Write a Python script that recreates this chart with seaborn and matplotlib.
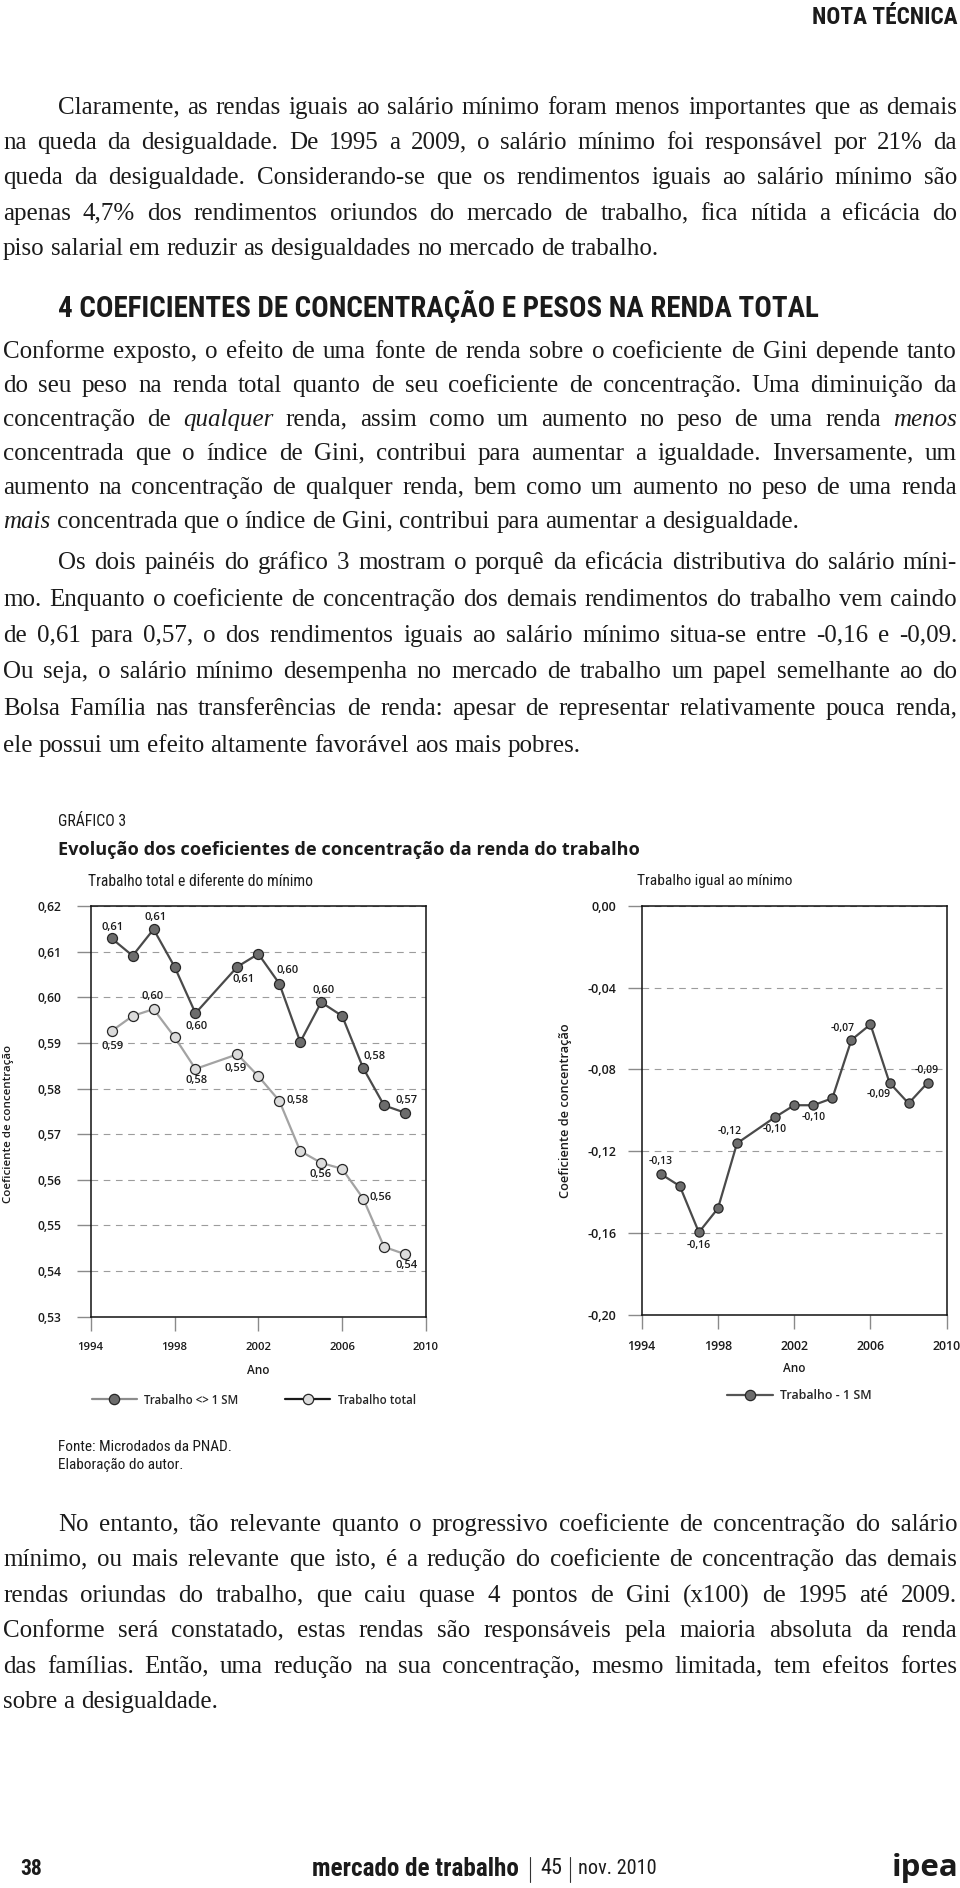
import math
import matplotlib
matplotlib.use("Agg")
import matplotlib.pyplot as plt
import seaborn as sns
import numpy as np
import pandas as pd
from matplotlib.font_manager import FontProperties, findfont
from matplotlib.lines import Line2D
from matplotlib.ticker import FuncFormatter

# ---------------------------------------------------------------- data
years = [1995, 1996, 1997, 1998, 1999, 2001, 2002, 2003, 2004, 2005, 2006, 2007, 2008, 2009]
trabalho_dif_1sm = [0.6129, 0.6091, 0.6149, 0.6067, 0.5965, 0.6067, 0.6095,
                    0.6030, 0.5902, 0.5989, 0.5959, 0.5845, 0.5763, 0.5747]
trabalho_total = [0.5926, 0.5959, 0.5974, 0.5913, 0.5843, 0.5875, 0.5827,
                  0.5773, 0.5663, 0.5637, 0.5624, 0.5559, 0.5453, 0.5437]
trabalho_1sm = [-0.1311, -0.1370, -0.1596, -0.1479, -0.1161, -0.1033, -0.0975,
                -0.0975, -0.0941, -0.0656, -0.0580, -0.0865, -0.0966, -0.0865]
labeled_years = [1995, 1997, 1999, 2001, 2003, 2005, 2007, 2009]
x_ticks = [1994, 1998, 2002, 2006, 2010]
left_yticks = [0.53, 0.54, 0.55, 0.56, 0.57, 0.58, 0.59, 0.60, 0.61, 0.62]
right_yticks = [-0.20, -0.16, -0.12, -0.08, -0.04, 0.00]

series_left_names = ["Trabalho <> 1 SM", "Trabalho total"]
series_right_name = "Trabalho - 1 SM"

P1 = ["Claramente, as rendas iguais ao salário mínimo foram menos importantes que as demais",
      "na queda da desigualdade. De 1995 a 2009, o salário mínimo foi responsável por 21% da",
      "queda da desigualdade. Considerando-se que os rendimentos iguais ao salário mínimo são",
      "apenas 4,7% dos rendimentos oriundos do mercado de trabalho, fica nítida a eficácia do",
      "piso salarial em reduzir as desigualdades no mercado de trabalho."]
HEADING = "4 COEFICIENTES DE CONCENTRAÇÃO E PESOS NA RENDA TOTAL"
P2 = ["Conforme exposto, o efeito de uma fonte de renda sobre o coeficiente de Gini depende tanto",
      "do seu peso na renda total quanto de seu coeficiente de concentração. Uma diminuição da",
      "concentração de _qualquer_ renda, assim como um aumento no peso de uma renda _menos_",
      "concentrada que o índice de Gini, contribui para aumentar a igualdade. Inversamente, um",
      "aumento na concentração de qualquer renda, bem como um aumento no peso de uma renda",
      "_mais_ concentrada que o índice de Gini, contribui para aumentar a desigualdade."]
P3 = ["Os dois painéis do gráfico 3 mostram o porquê da eficácia distributiva do salário míni-",
      "mo. Enquanto o coeficiente de concentração dos demais rendimentos do trabalho vem caindo",
      "de 0,61 para 0,57, o dos rendimentos iguais ao salário mínimo situa-se entre -0,16 e -0,09.",
      "Ou seja, o salário mínimo desempenha no mercado de trabalho um papel semelhante ao do",
      "Bolsa Família nas transferências de renda: apesar de representar relativamente pouca renda,",
      "ele possui um efeito altamente favorável aos mais pobres."]
P4 = ["No entanto, tão relevante quanto o progressivo coeficiente de concentração do salário",
      "mínimo, ou mais relevante que isto, é a redução do coeficiente de concentração das demais",
      "rendas oriundas do trabalho, que caiu quase 4 pontos de Gini (x100) de 1995 até 2009.",
      "Conforme será constatado, estas rendas são responsáveis pela maioria absoluta da renda",
      "das famílias. Então, uma redução na sua concentração, mesmo limitada, tem efeitos fortes",
      "sobre a desigualdade."]

GRAFICO_LABEL = "GRÁFICO 3"
TITLE = "Evolução dos coeficientes de concentração da renda do trabalho"
SUB_LEFT = "Trabalho total e diferente do mínimo"
SUB_RIGHT = "Trabalho igual ao mínimo"
YLABEL = "Coeficiente de concentração"
XLABEL = "Ano"
SOURCE = ["Fonte: Microdados da PNAD.", "Elaboração do autor."]

# ---------------------------------------------------------------- style
sns.set_theme(style="white")
plt.rcParams["font.family"] = ["Open Sans", "DejaVu Sans"]


def pick_condensed():
    cands = [("Liberation Sans Narrow", "normal", "Narrow"),
             ("Open Sans", "condensed", "ondensed"),
             ("Roboto Condensed", "normal", "ondensed"),
             ("DejaVu Sans", "condensed", "ondensed")]
    for fam, stretch, key in cands:
        try:
            path = findfont(FontProperties(family=fam, stretch=stretch),
                            fallback_to_default=False)
        except Exception:
            continue
        if key in str(path):
            return fam, stretch
    return "Liberation Sans", "normal"


NARROW, NARROW_STRETCH = pick_condensed()
SERIF = "Liberation Serif"
SANS = "Open Sans"
TEXT = "#1b1b1b"

DARK_LINE = "#4a4a4a"
DARK_FACE = "#6c6c6c"
LIGHT_LINE = "#a3a3a3"
LIGHT_FACE = "#dcdcdc"
EDGE = "#262626"

W, H = 960, 1888
fig = plt.figure(figsize=(W / 100, H / 100), dpi=100)
fig.patch.set_facecolor("white")
renderer = fig.canvas.get_renderer()


def metrics(s, fp):
    return renderer.get_text_width_height_descent(s, fp, ismath=False)


def tw(s, fp):
    return metrics(s, fp)[0]


def fprop(family, size=10, weight="normal", style="normal"):
    stretch = NARROW_STRETCH if family == NARROW else "normal"
    return FontProperties(family=family, size=size, weight=weight,
                          style=style, stretch=stretch)


def fitted(s, width, family, weight="normal", style="normal"):
    f = fprop(family, 10, weight, style)
    f.set_size(10 * width / tw(s, f))
    return f


def put(x, y, s, fp, ha="left", va="center", color=TEXT):
    return fig.text(x / W, 1 - y / H, s, fontproperties=fp, ha=ha, va=va, color=color)


def snapped_baseline(Y, s, fp):
    """Baseline (top-down px) that makes the rasterised word sit on integer row Y."""
    _, h, d = metrics(s, fp)
    y_max = h - d
    return Y + math.floor(h + 1e-7) - math.floor(y_max + 1e-7) - d


def comma(v):
    s = f"{v:.2f}"
    if s == "-0.00":
        s = "0.00"
    return s.replace(".", ",")


# ---------------------------------------------------------------- page text
put(958, 17, "NOTA TÉCNICA", fitted("NOTA TÉCNICA", 145, NARROW, "bold"), ha="right")
put(58, 307, HEADING, fitted(HEADING, 761, NARROW, "bold"))

LEFT, RIGHT, INDENT = 3, 957, 55
paragraphs = [
    (P1, True, 106.5, 35.4),
    (P2, False, 351.0, 34.0),
    (P3, True, 562.0, 36.5),
    (P4, True, 1524.0, 35.4),
]


def items_of(line, fr, fi):
    out = []
    for w in line.split(" "):
        if len(w) > 2 and w.startswith("_") and w.endswith("_"):
            out.append((w[1:-1], fi))
        else:
            out.append((w, fr))
    return out


REF_FS = 17.0
probe = fprop(SERIF, REF_FS)
probe_it = fprop(SERIF, REF_FS, style="italic")
probe_space = tw("a a", probe) - tw("aa", probe)
ratios = []
for lines, indent, y0, dy in paragraphs:
    for i, line in enumerate(lines[:-1]):
        x0 = LEFT + (INDENT if (i == 0 and indent) else 0)
        it = items_of(line, probe, probe_it)
        nat = sum(tw(t, f) for t, f in it) + 0.55 * probe_space * (len(it) - 1)
        ratios.append((RIGHT - x0) / nat)
BODY_FS = round(min(18.0, REF_FS * min(ratios)), 1)

body = fprop(SERIF, BODY_FS)
body_it = fprop(SERIF, BODY_FS, style="italic")
space_w = tw("a a", body) - tw("aa", body)

for lines, indent, y0, dy in paragraphs:
    for i, line in enumerate(lines):
        x0 = LEFT + (INDENT if (i == 0 and indent) else 0)
        Y = int(round(y0 + i * dy + 7))
        it = items_of(line, body, body_it)
        widths = [tw(t, f) for t, f in it]
        last = i == len(lines) - 1
        gap = space_w if (last or len(it) < 2) else (RIGHT - x0 - sum(widths)) / (len(it) - 1)
        x = x0
        for (t, f), wd in zip(it, widths):
            put(x, snapped_baseline(Y, t, f), t, f, va="baseline")
            x += wd + gap

# ---------------------------------------------------------------- chart header
put(58, 821, GRAFICO_LABEL, fitted(GRAFICO_LABEL, 68, NARROW))
put(58, 850, TITLE, fitted(TITLE, 583, SANS, "bold"))
put(88, 881, SUB_LEFT, fitted(SUB_LEFT, 224, NARROW))
put(637, 881, SUB_RIGHT, fitted(SUB_RIGHT, 155, NARROW))

# ---------------------------------------------------------------- axes
axL = fig.add_axes([90.7 / W, 1 - 1316.7 / H, 335.3 / W, 410.7 / H])
axR = fig.add_axes([641.7 / W, 1 - 1315.0 / H, 305.0 / W, 409.3 / H])

df_left = pd.DataFrame({"Ano": years,
                        series_left_names[0]: trabalho_dif_1sm,
                        series_left_names[1]: trabalho_total})
df_right = pd.DataFrame({"Ano": years, series_right_name: trabalho_1sm})

MS_L = 7.2
MS_R = 6.6
sns.lineplot(data=df_left, x="Ano", y=series_left_names[1], ax=axL, color=LIGHT_LINE,
             linewidth=1.6, marker="o", markersize=MS_L, markerfacecolor=LIGHT_FACE,
             markeredgecolor=EDGE, markeredgewidth=0.9, legend=False, zorder=3)
sns.lineplot(data=df_left, x="Ano", y=series_left_names[0], ax=axL, color=DARK_LINE,
             linewidth=1.6, marker="o", markersize=MS_L, markerfacecolor=DARK_FACE,
             markeredgecolor=EDGE, markeredgewidth=0.9, legend=False, zorder=4)
sns.lineplot(data=df_right, x="Ano", y=series_right_name, ax=axR, color=DARK_LINE,
             linewidth=1.6, marker="o", markersize=MS_R, markerfacecolor=DARK_FACE,
             markeredgecolor=EDGE, markeredgewidth=0.9, legend=False, zorder=4)

for ln, face in zip(axL.lines, [LIGHT_FACE, DARK_FACE]):
    ln.set_markerfacecolor(face)
    ln.set_markeredgecolor(EDGE)
for ln in axR.lines:
    ln.set_markerfacecolor(DARK_FACE)
    ln.set_markeredgecolor(EDGE)

LABEL_WEIGHT = 600


def style_axes(ax, ylim, yticks, fs_y, fs_x, ypad):
    ax.set_xlim(1994, 2010)
    ax.set_ylim(*ylim)
    ax.set_xticks(x_ticks)
    ax.set_yticks(yticks)
    ax.xaxis.set_major_formatter(FuncFormatter(lambda v, p: f"{int(round(v))}"))
    ax.yaxis.set_major_formatter(FuncFormatter(lambda v, p: comma(v)))
    for sp in ax.spines.values():
        sp.set_visible(True)
        sp.set_color("#111111")
        sp.set_linewidth(1.1)
    ax.tick_params(axis="both", which="major", direction="out", length=10, width=1.0,
                   color="#8a8a8a", bottom=True, left=True, top=False, right=False)
    ax.tick_params(axis="y", pad=ypad, labelsize=fs_y, labelcolor=TEXT)
    ax.tick_params(axis="x", pad=8.3, labelsize=fs_x, labelcolor=TEXT)
    for lab in ax.get_xticklabels() + ax.get_yticklabels():
        lab.set_fontweight(LABEL_WEIGHT)
    ax.yaxis.grid(True, linestyle=(0, (6, 5)), color="#9c9c9c", linewidth=0.8)
    ax.xaxis.grid(False)
    ax.set_axisbelow(True)
    ax.set_facecolor("white")


style_axes(axL, (0.53, 0.62), left_yticks, 8.7, 8.2, 11.3)
style_axes(axR, (-0.20, 0.0), right_yticks, 9.0, 8.9, 8.4)

axL.set_xlabel(XLABEL, fontsize=8.5, color=TEXT, va="center", fontweight=LABEL_WEIGHT)
axL.xaxis.set_label_coords(0.5, -0.1315)
axR.set_xlabel(XLABEL, fontsize=8.5, color=TEXT, va="center", fontweight=LABEL_WEIGHT)
axR.xaxis.set_label_coords(0.5, -0.130)

axL.set_ylabel(YLABEL, fontproperties=fitted(YLABEL, 157, SANS, LABEL_WEIGHT), color=TEXT, va="center")
axL.yaxis.set_label_coords(-0.245, 0.47)
axR.set_ylabel(YLABEL, fontproperties=fitted(YLABEL, 175, SANS, LABEL_WEIGHT), color=TEXT, va="center")
axR.yaxis.set_label_coords(-0.2505, 0.5)

# ---------------------------------------------------------------- value labels
dark_offsets = [(1, 11), (2, 12), (1.5, -13), (6, -13), (8, 13), (2.5, 12), (11, 11), (2, 12.5)]
light_offsets = [(1, -15), (-1, 13), (1, -12), (-2, -14), (18, 0), (-1, -11.5), (17.5, 1), (2, -11)]
right_offsets = [(0, 12), (0, -13), (-7, 12), (0, -12), (0, -12), (-8.5, 11.5), (-11, -11.5), (-1.5, 12.5)]


def annotate(ax, xs, ys, offsets, fs):
    lookup = dict(zip(xs, ys))
    for yr, off in zip(labeled_years, offsets):
        v = lookup[yr]
        ax.annotate(comma(v), (yr, v), xytext=off, textcoords="offset pixels",
                    ha="center", va="center", fontsize=fs, color=TEXT, zorder=6,
                    fontweight=LABEL_WEIGHT)


annotate(axL, years, trabalho_dif_1sm, dark_offsets, 8.0)
annotate(axL, years, trabalho_total, light_offsets, 8.0)
annotate(axR, years, trabalho_1sm, right_offsets, 7.5)

# ---------------------------------------------------------------- legends
hL1 = Line2D([], [], color="#8c8c8c", linewidth=1.6, marker="o", markersize=7.4,
             markerfacecolor=DARK_FACE, markeredgecolor=EDGE, markeredgewidth=0.9)
hL2 = Line2D([], [], color="#1a1a1a", linewidth=1.6, marker="o", markersize=7.4,
             markerfacecolor=LIGHT_FACE, markeredgecolor=EDGE, markeredgewidth=0.9)
axL.legend([hL1, hL2], series_left_names, loc="center left",
           bbox_to_anchor=(91.7 / W, 1 - 1400 / H), bbox_transform=fig.transFigure,
           ncol=2, frameon=False, borderpad=0, borderaxespad=0, handlelength=3.9,
           handletextpad=0.63, columnspacing=4.1, numpoints=1,
           prop=fprop(SANS, 8.3, LABEL_WEIGHT))

hR = Line2D([], [], color="#555555", linewidth=1.6, marker="o", markersize=7.4,
            markerfacecolor=DARK_FACE, markeredgecolor=EDGE, markeredgewidth=0.9)
axR.legend([hR], [series_right_name], loc="center left",
           bbox_to_anchor=(726.7 / W, 1 - 1395.7 / H), bbox_transform=fig.transFigure,
           frameon=False, borderpad=0, borderaxespad=0, handlelength=3.77,
           handletextpad=0.58, numpoints=1, prop=fprop(SANS, 8.9, LABEL_WEIGHT))

# ---------------------------------------------------------------- source + footer
put(58, 1447, SOURCE[0], fitted(SOURCE[0], 174, NARROW))
put(58, 1465, SOURCE[1], fitted(SOURCE[1], 125, NARROW))

put(20, 1869, "38", fitted("38", 22, NARROW, "bold"))
put(311.7, 1869, "mercado de trabalho", fitted("mercado de trabalho", 207, NARROW, "bold"))
put(540, 1869, "45", fitted("45", 22, NARROW))
put(578, 1869, "nov. 2010", fitted("nov. 2010", 78, NARROW))
for xb in (530, 570):
    fig.add_artist(Line2D([xb / W, xb / W], [1 - 1857 / H, 1 - 1882 / H],
                          transform=fig.transFigure, color="#333333", linewidth=0.8))
put(958, 1876, "ipea", fitted("ipea", 67, SANS, "bold"), ha="right", va="baseline")

fig.savefig("out.png", dpi=100, facecolor="white")
